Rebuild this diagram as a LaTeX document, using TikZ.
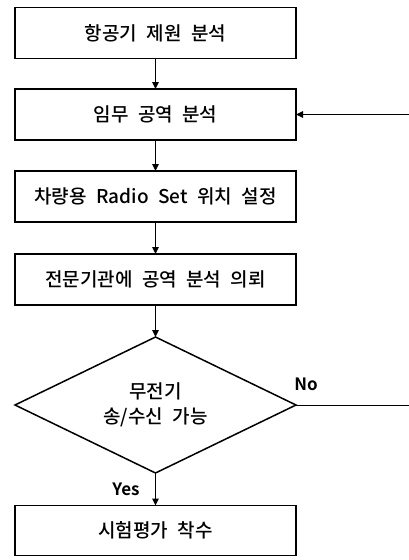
\documentclass[tikz,border=0pt]{standalone}
\usepackage{fontspec}
\setmainfont{Noto Sans CJK KR}[UprightFont={* Medium},BoldFont={* Bold},WordSpace=2.2]
\usetikzlibrary{shapes.geometric,arrows.meta}
\begin{document}
\begin{tikzpicture}[x=1pt,y=-1pt,
  font=\fontsize{19}{25}\selectfont,
  box/.style={draw, line width=1.5pt, minimum width=281pt, minimum height=51pt, inner sep=0pt, outer sep=0pt},
  dia/.style={draw, diamond, aspect=2.07, line width=1.5pt, minimum width=281pt, minimum height=136pt, inner sep=0pt, outer sep=0pt, align=center},
  conn/.style={line width=1pt, -{Triangle[length=7pt,width=6.5pt]}},
  lbl/.style={font=\fontsize{17}{20}\selectfont\bfseries}]
\useasboundingbox (0,0) rectangle (409,560);
\clip (0,0) rectangle (409,560);
\node[box] (b1) at (155.5,33) {항공기 제원 분석};
\node[box] (b2) at (155.5,114.5) {임무 공역 분석};
\node[box] (b3) at (155.5,196.5) {차량용 Radio Set 위치 설정};
\node[box] (b4) at (155.5,279.5) {전문기관에 공역 분석 의뢰};
\node[dia] (d) at (155.5,405) {무전기\\송/수신 가능};
\node[box, minimum height=50pt] (b5) at (155.5,530.5) {시험평가 착수};
\coordinate (r1) at (430,405);
\coordinate (r2) at (430,114.5);
\draw[conn] (b1) -- (b2);
\draw[conn] (b2) -- (b3);
\draw[conn] (b3) -- (b4);
\draw[conn] (b4) -- (d);
\draw[conn] (d) -- (b5);
\draw[conn] (d.east) -- (r1) -- (r2) -- (b2.east);
\node[lbl] (no) at (306,384) {No};
\node[lbl] (yes) at (126,489) {Yes};
\end{tikzpicture}
\end{document}
